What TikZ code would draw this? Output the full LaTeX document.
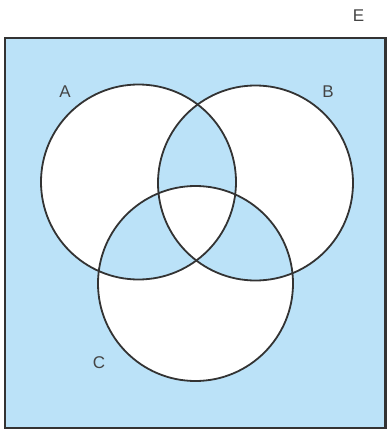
\documentclass[tikz,border=0pt]{standalone}
\usepackage{fontspec}
\setmainfont{Liberation Sans}
\definecolor{skyfill}{HTML}{BBE2F8}
\definecolor{edgegray}{HTML}{333333}
\definecolor{labelgray}{HTML}{444444}
\begin{document}
\begin{tikzpicture}[x=1pt,y=-1pt,
  setlabel/.style={text=labelgray,font=\fontsize{17}{17}\selectfont,inner sep=0pt},
  setcircle/.style={draw=edgegray,line width=1.8pt}]
\useasboundingbox (0,0) rectangle (387,431);
\coordinate (cA) at (138.5,182);
\coordinate (cB) at (255.5,183);
\coordinate (cC) at (195.5,283.5);
\coordinate (uTL) at (5,38);
\coordinate (uBR) at (385.5,428);
\fill[skyfill,even odd rule] (uTL) rectangle (uBR)
  (cA) circle[radius=97.5] (cB) circle[radius=97.5] (cC) circle[radius=97.5];
\draw[setcircle] (cA) circle[radius=97.5];
\draw[setcircle] (cB) circle[radius=97.5];
\draw[setcircle] (cC) circle[radius=97.5];
\draw[draw=edgegray,line width=2.6pt] (uTL) rectangle (uBR);
\node[setlabel] (lE) at (358.5,16) {E};
\node[setlabel] (lA) at (65,92) {A};
\node[setlabel] (lB) at (328,92) {B};
\node[setlabel] (lC) at (99,363) {C};
\end{tikzpicture}
\end{document}
